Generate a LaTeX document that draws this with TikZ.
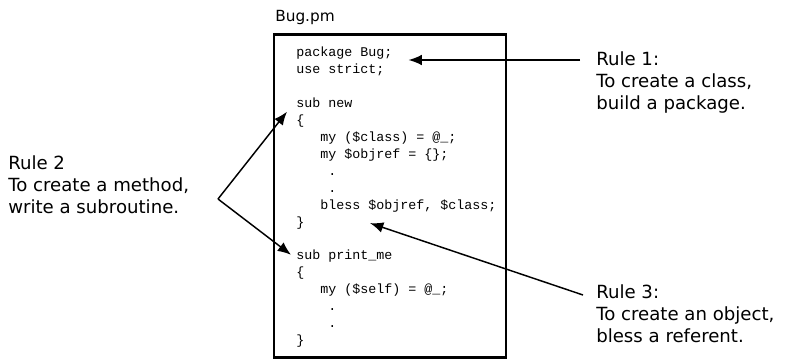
\documentclass[tikz,border=0pt]{standalone}
\usepackage{fontspec}
\setmainfont{DejaVu Sans}
\setmonofont{Liberation Mono}
\usetikzlibrary{arrows.meta, calc}

\begin{document}
\begin{tikzpicture}[
    x=0.75pt, y=-0.75pt,
    filebox/.style={rectangle, draw, line width=2.2pt, minimum width=174pt, minimum height=242.25pt, inner sep=0pt},
    filename/.style={font=\fontsize{11.5}{13}\selectfont, inner sep=0pt, anchor=base west},
    code/.style={font=\ttfamily\fontsize{10}{12}\selectfont, inner sep=0pt, anchor=base west},
    rule/.style={font=\fontsize{13.6}{16.5}\selectfont, align=left, inner sep=0pt, anchor=north west},
    arrow/.style={-{Latex[length=10pt, width=8pt]}, line width=1.1pt},
]
\useasboundingbox (0,0) rectangle (785,360);

%% NODES
    % the file and its name
    \node[filebox] (bugfile) at (390,196) {};
    \node[filename] (bugname) at (275,22) {Bug.pm};

    % the code, one node per line
    \foreach \txt [count=\i] in {
        {package Bug;},
        {use strict;},
        {},
        {sub new},
        {\{},
        {\ \ \ my (\$class) = @\_;},
        {\ \ \ my \$objref = \{\};},
        {\ \ \ \ .},
        {\ \ \ \ .},
        {\ \ \ bless \$objref, \$class;},
        {\}},
        {},
        {sub print\_me},
        {\{},
        {\ \ \ my (\$self) = @\_;},
        {\ \ \ \ .},
        {\ \ \ \ .},
        {\}}}
        \node[code] (line\i) at (296, {57+16.9*(\i-1)}) {\txt};

    % the rules
    \node[rule] (rule1) at (596,51) {Rule 1:\\To create a class,\\build a package.};
    \node[rule] (rule2) at (8,155) {Rule 2\\To create a method,\\write a subroutine.};
    \node[rule] (rule3) at (596,284) {Rule 3:\\To create an object,\\bless a referent.};

%% CONNECTIONS
    % rule 1 -> package
    \coordinate (pkgtip) at ($(line1.base east)+(16,3)$);
    \draw[arrow] ($(rule1.west |- pkgtip)+(-16,0)$) -- (pkgtip);

    % rule 2 -> both subs
    \coordinate (fork) at (218,199);
    \draw[arrow] (fork) -- ($(line4.base west)+(-9,4)$);
    \draw[arrow] (fork) -- ($(line13.base west)+(-5,-5)$);

    % rule 3 -> bless
    \draw[arrow] ($(rule3.north west)+(-13,11)$) -- ($(line10.base west)+(74,14)$);

\end{tikzpicture}
\end{document}
